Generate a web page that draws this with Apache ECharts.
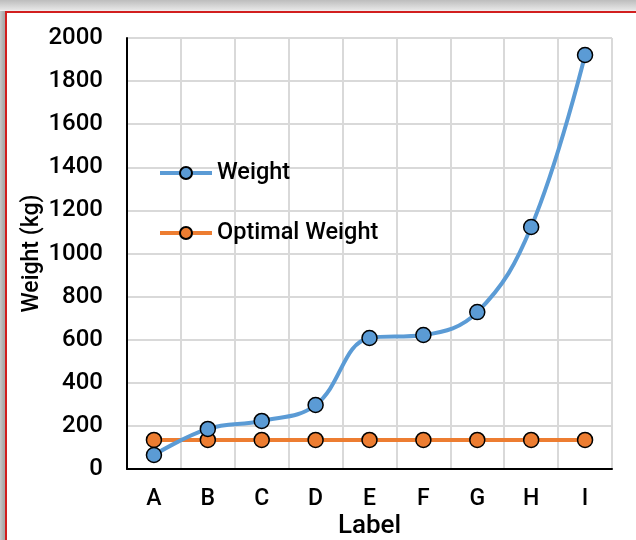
<!DOCTYPE html>
<html>
<head>
<meta charset="utf-8">
<script src="https://cdn.jsdelivr.net/npm/echarts@6/dist/echarts.min.js"></script>
<style>
  html, body { margin: 0; padding: 0; width: 636px; height: 540px; overflow: hidden; }
  body { background: linear-gradient(to bottom, #bdbdbd 0px, #e6e6e6 10px, #ffffff 12px); position: relative; }
  #edge { position: absolute; left: 0; top: 11px; width: 6px; height: 600px;
          background: linear-gradient(to right, #c8c8c8 0px, #a9a9a9 4px); }
  #frame { position: absolute; left: 5px; top: 11px; width: 700px; height: 600px;
           border-left: 2px solid #d21f1f; border-top: 2px solid #d21f1f; background: #fff; }
  #chart { position: absolute; left: 0; top: 0; width: 636px; height: 540px; }
</style>
</head>
<body>
<div id="edge"></div>
<div id="frame"></div>
<div id="chart"></div>
<script>
const labels = ['A', 'B', 'C', 'D', 'E', 'F', 'G', 'H', 'I'];
const weight = [65, 186, 223, 297, 608, 622, 728, 1123, 1921];
const optimalWeight = [135, 135, 135, 135, 135, 135, 135, 135, 135];
const yTicks = { min: 0, max: 2000, interval: 200 };

const FONT = 'Roboto, "DejaVu Sans", sans-serif';
const FW = 500;
const chart = echarts.init(document.getElementById('chart'), null, { renderer: 'canvas' });

chart.setOption({
  animation: false,
  backgroundColor: 'transparent',
  textStyle: { fontFamily: FONT, fontWeight: FW },
  grid: { left: 127, right: 24, top: 38, bottom: 71, containLabel: false, outerBoundsMode: 'none' },
  legend: {
    orient: 'vertical',
    left: 153,
    top: 156,
    itemWidth: 52,
    itemHeight: 15,
    itemGap: 36,
    lineStyle: { width: 4 },
    textStyle: { fontFamily: FONT, fontWeight: FW, fontSize: 23.5, lineHeight: 24, color: '#000' },
    data: ['Weight', 'Optimal Weight']
  },
  xAxis: {
    type: 'category',
    data: labels,
    boundaryGap: true,
    name: 'Label',
    nameLocation: 'middle',
    nameGap: 44,
    nameMoveOverlap: false,
    nameTextStyle: { fontFamily: FONT, fontWeight: FW, fontSize: 26, color: '#000' },
    axisLine: { lineStyle: { color: '#000', width: 2 } },
    axisTick: { show: false },
    axisLabel: { fontFamily: FONT, fontWeight: FW, fontSize: 23, color: '#000', margin: 19 },
    splitLine: { show: true, lineStyle: { color: '#d9d9d9', width: 2 } }
  },
  yAxis: {
    type: 'value',
    min: yTicks.min,
    max: yTicks.max,
    interval: yTicks.interval,
    name: 'Weight (kg)',
    nameLocation: 'middle',
    nameGap: 83,
    nameMoveOverlap: false,
    nameTextStyle: { fontFamily: FONT, fontWeight: FW, fontSize: 23, color: '#000' },
    axisLine: { show: true, lineStyle: { color: '#000', width: 2 } },
    axisTick: { show: false },
    axisLabel: { fontFamily: FONT, fontWeight: FW, fontSize: 24, color: '#000', margin: 24,
                 formatter: v => String(v) },
    splitLine: { show: true, lineStyle: { color: '#d9d9d9', width: 2 } }
  },
  series: [
    {
      name: 'Weight',
      type: 'line',
      data: weight,
      smooth: 0.4,
      symbol: 'circle',
      symbolSize: 15,
      lineStyle: { color: '#5b9bd5', width: 4 },
      itemStyle: { color: '#5b9bd5', borderColor: '#000', borderWidth: 1.5 },
      z: 3
    },
    {
      name: 'Optimal Weight',
      type: 'line',
      data: optimalWeight,
      symbol: 'circle',
      symbolSize: 15,
      lineStyle: { color: '#ed7d31', width: 4 },
      itemStyle: { color: '#ed7d31', borderColor: '#000', borderWidth: 1.5 },
      z: 2
    }
  ]
});
</script>
</body>
</html>
